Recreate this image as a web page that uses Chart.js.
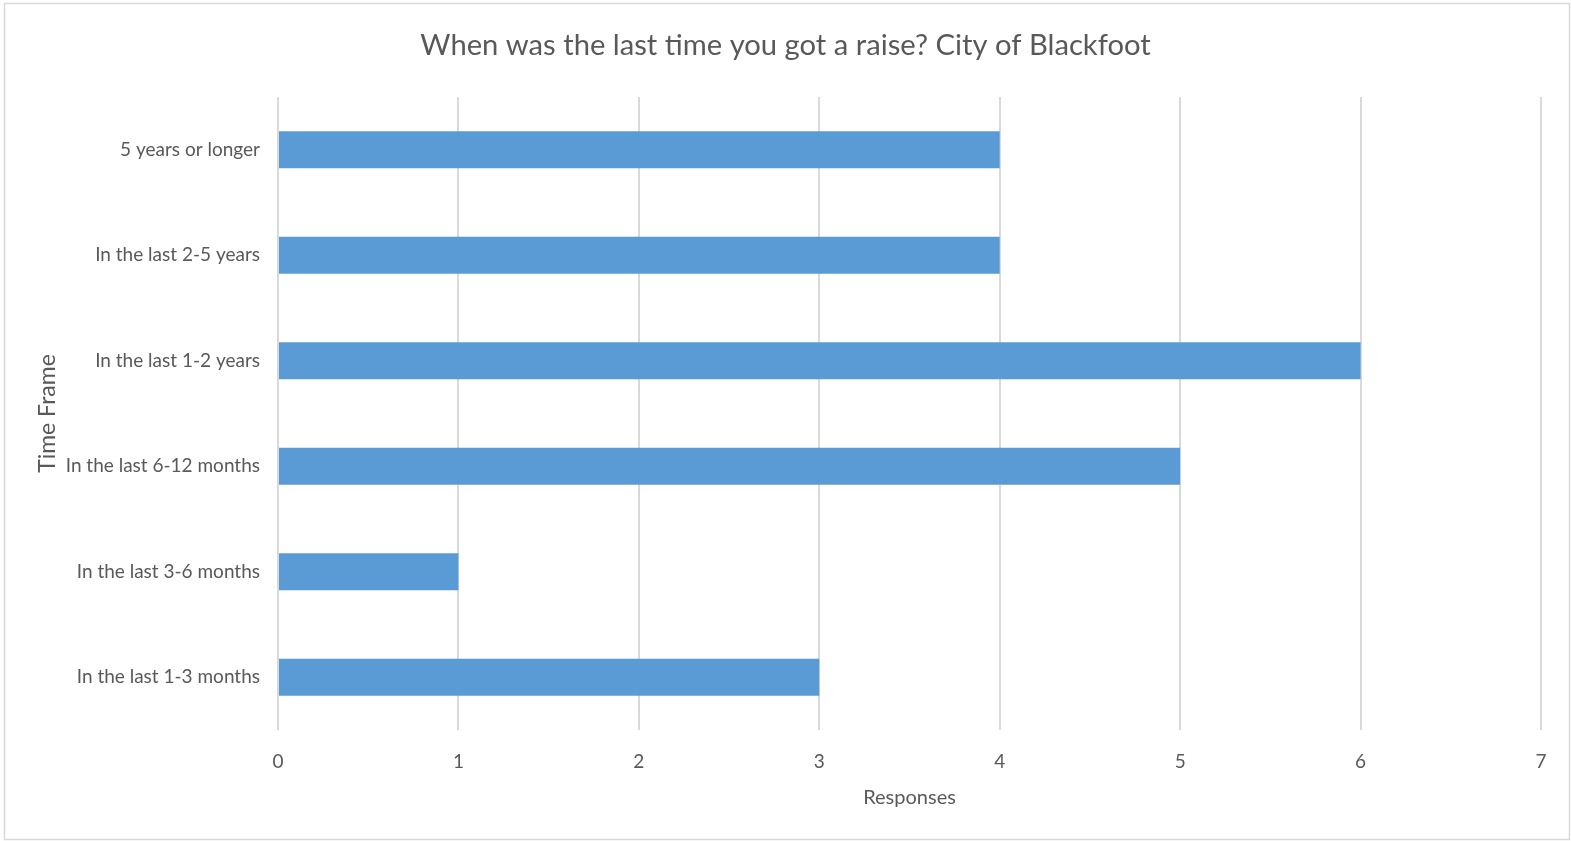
<!DOCTYPE html>
<html>
<head>
<meta charset="utf-8">
<style>
html,body{margin:0;padding:0;background:#fff;}
#wrap{width:1571px;height:841px;position:relative;}
</style>
<script src="https://cdn.jsdelivr.net/npm/chart.js@4/dist/chart.umd.min.js"></script>
</head>
<body>
<div id="wrap"><canvas id="c" width="1571" height="841"></canvas></div>
<script>
const categories = ["5 years or longer","In the last 2-5 years","In the last 1-2 years","In the last 6-12 months","In the last 3-6 months","In the last 1-3 months"];
const responses = [4,4,6,5,1,3];
const xTicks = [0,1,2,3,4,5,6,7];
const titleText = "When was the last time you got a raise? City of Blackfoot";
const xTitle = "Responses";
const yTitle = "Time Frame";

const FONT = "Lato, 'Open Sans', sans-serif";
const TXT = "#595959";

const borderPlugin = {
  id: 'outerBorder',
  beforeDraw(chart){
    const ctx = chart.ctx;
    ctx.save();
    ctx.fillStyle = '#fff';
    ctx.fillRect(0,0,chart.width,chart.height);
    ctx.strokeStyle = '#d9d9d9';
    ctx.lineWidth = 1.5;
    ctx.strokeRect(4.5,3.5,1565,836);
    ctx.restore();
  }
};

new Chart(document.getElementById('c'), {
  type: 'bar',
  data: {
    labels: categories,
    datasets: [{
      data: responses,
      backgroundColor: '#5b9bd5',
      borderWidth: 0,
      categoryPercentage: 1,
      barPercentage: 0.351
    }]
  },
  options: {
    indexAxis: 'y',
    responsive: false,
    animation: false,
    devicePixelRatio: 1,
    layout: { padding: { left: 0, right: 0, top: 0, bottom: 0 } },
    plugins: {
      legend: { display: false },
      tooltip: { enabled: false },
      title: {
        display: true,
        text: titleText,
        color: TXT,
        font: { family: FONT, size: 29.2, weight: 'normal', lineHeight: 1.2 },
        padding: { top: 28, bottom: 34 }
      }
    },
    scales: {
      x: {
        min: 0, max: 7,
        afterBuildTicks(scale){ scale.ticks = xTicks.map(v => ({value: v})); },
        afterFit(scale){ scale.height = 111; },
        grid: { color: '#d9d9d9', lineWidth: 2, drawTicks: false },
        border: { display: false },
        ticks: { color: TXT, padding: 20, font: { family: FONT, size: 19 } },
        title: { display: true, text: xTitle, color: TXT, font: { family: FONT, size: 20, lineHeight: 1.2 }, padding: { top: 0, bottom: 31 } }
      },
      y: {
        afterFit(scale){ scale.width = 278; },
        grid: { display: false, drawTicks: false },
        border: { display: false },
        ticks: { color: TXT, padding: 18, font: { family: FONT, size: 19 } },
        title: { display: true, text: yTitle, color: TXT, font: { family: FONT, size: 23, lineHeight: 1.2 }, padding: { top: 34, bottom: 0 } }
      },
      spacer: {
        type: 'linear',
        position: 'right',
        display: true,
        afterFit(scale){ scale.width = 30; },
        grid: { display: false, drawTicks: false },
        border: { display: false },
        ticks: { display: false }
      }
    }
  },
  plugins: [borderPlugin]
});
</script>
</body>
</html>
